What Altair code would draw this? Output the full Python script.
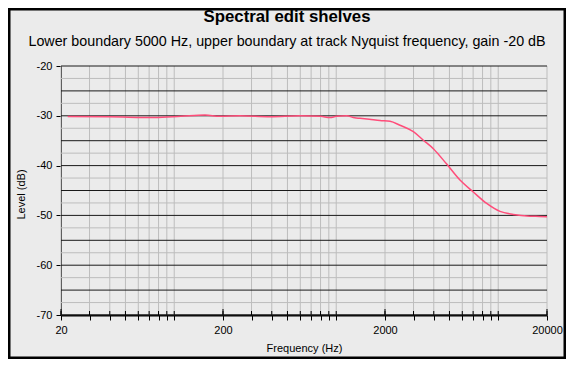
import altair as alt
import pandas as pd

TITLE = "Spectral edit shelves"
SUBTITLE = "Lower boundary 5000 Hz, upper boundary at track Nyquist frequency, gain -20 dB"
X_TITLE = "Frequency (Hz)"
Y_TITLE = "Level (dB)"

# Curve
freq = [22, 40, 76, 110, 155, 191, 255, 390, 597, 800, 916, 1000, 1160, 1300, 1402,
        1600, 1862, 2148, 2476, 2993, 3450, 3975, 4808, 5806, 7014, 8488, 10252,
        12390, 15700, 18000, 20000]
level = [-30.15, -30.2, -30.35, -30.1, -29.85, -30.1, -30.0, -30.2, -30.0, -30.1,
         -30.35, -30.1, -30.0, -30.4, -30.5, -30.7, -30.95, -31.1, -31.9, -33.2,
         -34.9, -36.6, -39.7, -42.9, -45.3, -47.6, -49.2, -49.8, -50.15, -50.2, -50.25]

y_major = [-70, -65, -60, -55, -50, -45, -40, -35, -30, -25, -20]
y_minor = [-67.5, -62.5, -57.5, -52.5, -47.5, -42.5, -37.5, -32.5, -27.5, -22.5]
x_grid = [20, 30, 40, 50, 60, 70, 80, 90,
          100, 200, 300, 400, 500, 600, 700, 800, 900,
          1000, 2000, 3000, 4000, 5000, 6000, 7000, 8000, 9000,
          10000, 20000]
x_labels = [20, 200, 2000, 20000]

FONT = "Liberation Sans"
W, H = 486, 249
PL, PT, PR, PB = 53, 58, 19, 44

curve = pd.DataFrame({"f": freq, "db": level})
xg = pd.DataFrame({"f": x_grid})
xmaj = pd.DataFrame({"f": x_labels})
ymin = pd.DataFrame({"db": y_minor})
ymaj = pd.DataFrame({"db": y_major})
one = pd.DataFrame({"a": [0]})

xs = alt.Scale(type="log", domain=[20, 20000], nice=False)
ys = alt.Scale(domain=[-70, -20], nice=False, zero=False)

xaxis = alt.Axis(
    values=x_grid, grid=False, tickSize=5, tickColor="black", domainColor="black",
    domainWidth=2, labelFontSize=11, labelFont=FONT, labelColor="black", labelPadding=4,
    labelExpr="(datum.value==20||datum.value==200||datum.value==2000||datum.value==20000) ? '' + datum.value : ''",
    title=X_TITLE, titleFont=FONT, titleFontSize=11, titleFontWeight="normal",
    titleColor="black", titleY=36, titleBaseline="alphabetic",
    labelOverlap=False, labelFlush=False,
)
yaxis = alt.Axis(
    values=y_major, grid=False, tickSize=5, tickColor="black", domainColor="black",
    labelFontSize=11, labelFont=FONT, labelColor="black", labelPadding=4,
    labelExpr="'' + datum.value",
    title=Y_TITLE, titleFont=FONT, titleFontSize=11, titleFontWeight="normal",
    titleColor="black", titleX=-37, titleY=128, titleBaseline="alphabetic",
)

vgrid = alt.Chart(xg).mark_rule(color="#bdbdbd", strokeWidth=1).encode(
    x=alt.X("f:Q", scale=xs, axis=xaxis)
)
hminor = alt.Chart(ymin).mark_rule(color="#bdbdbd", strokeWidth=1).encode(
    y=alt.Y("db:Q", scale=ys, axis=yaxis)
)
hmajor = alt.Chart(ymaj).mark_rule(color="#1a1a1a", strokeWidth=1).encode(
    y=alt.Y("db:Q", scale=ys)
)
inner_ticks = alt.Chart(xg).mark_rule(color="black", strokeWidth=1).encode(
    x=alt.X("f:Q", scale=xs), y=alt.value(H - 4), y2=alt.value(H),
)
inner_major = alt.Chart(xmaj).mark_rule(color="black", strokeWidth=1).encode(
    x=alt.X("f:Q", scale=xs), y=alt.value(H - 6), y2=alt.value(H),
)
line = alt.Chart(curve).mark_line(
    color="#ff4d7a", strokeWidth=1.5, interpolate="monotone"
).encode(
    x=alt.X("f:Q", scale=xs),
    y=alt.Y("db:Q", scale=ys),
)
title = alt.Chart(one).mark_text(
    text=TITLE, font=FONT, fontSize=16.8, fontWeight="bold", color="black",
    align="center", baseline="alphabetic", clip=False,
).encode(x=alt.value(226), y=alt.value(-44))
subtitle = alt.Chart(one).mark_text(
    text=SUBTITLE, font=FONT, fontSize=14.3, color="black",
    align="center", baseline="alphabetic", clip=False,
).encode(x=alt.value(226), y=alt.value(-20))
frame = alt.Chart(one).mark_rect(
    fill=None, stroke="black", strokeWidth=2.5, clip=False
).encode(
    x=alt.value(-PL + 1.25), x2=alt.value(W + PR - 1.25),
    y=alt.value(-PT + 1.25), y2=alt.value(H + PB - 1.25),
)

chart = alt.layer(
    vgrid, hminor, hmajor, inner_ticks, inner_major, line, title, subtitle, frame
).properties(
    width=W, height=H,
    autosize=alt.AutoSizeParams(type="none"),
    padding={"left": PL, "top": PT, "right": PR, "bottom": PB},
).configure(
    background="#ebebeb",
).configure_view(
    stroke=None, fill="#ebebeb",
)

chart.save("out.html", embed_options={"renderer": "svg", "actions": False})
